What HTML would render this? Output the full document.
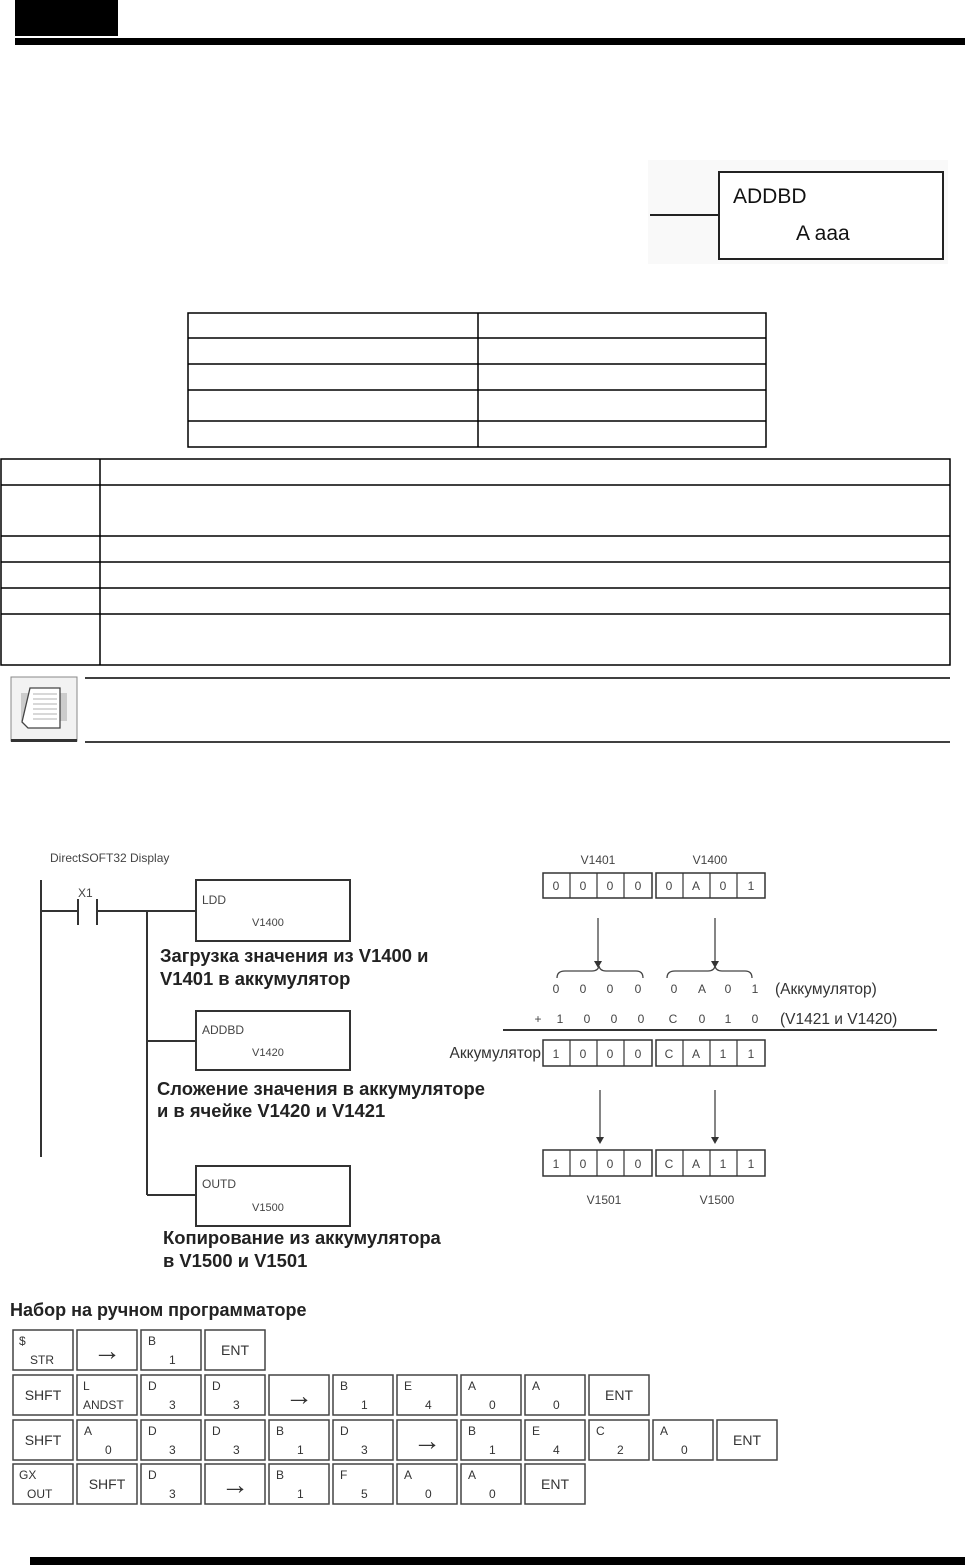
<!DOCTYPE html>
<html><head><meta charset="utf-8"><style>
html,body{margin:0;padding:0;background:#fff;}
svg{display:block;}
text{font-family:"Liberation Sans","DejaVu Sans",sans-serif;}
.k{fill:#fff;stroke:#444;stroke-width:1.5}
.s{font-size:12px;fill:#333}
.c{font-size:14px;fill:#333}
.a{font-size:28px;fill:#333}
.b{font-size:18.4px;font-weight:bold;fill:#222}
.g{font-size:12px;fill:#444}
.d{font-size:12px;fill:#444;text-anchor:middle}
</style></head><body>
<svg width="979" height="1565" viewBox="0 0 979 1565" xmlns="http://www.w3.org/2000/svg">
<rect x="15" y="0" width="103" height="36" fill="#000"/>
<rect x="15" y="38" width="950" height="7" fill="#000"/>
<rect x="648" y="160" width="300" height="104" fill="#f9f9f9"/>
<line x1="650" y1="215" x2="719" y2="215" stroke="#222" stroke-width="2"/>
<rect x="719" y="172" width="224" height="87" fill="#fff" stroke="#222" stroke-width="2"/>
<text x="733" y="203" style="font-size:21px;fill:#111">ADDBD</text>
<text x="796" y="240" style="font-size:21px;fill:#111">A aaa</text>
<g stroke="#000" stroke-width="1.5" fill="none">
<rect x="188" y="313" width="578" height="134"/>
<line x1="478" y1="313" x2="478" y2="447"/>
<line x1="188" y1="338" x2="766" y2="338"/>
<line x1="188" y1="364" x2="766" y2="364"/>
<line x1="188" y1="390" x2="766" y2="390"/>
<line x1="188" y1="421" x2="766" y2="421"/>
<rect x="1" y="459" width="949" height="206"/>
<line x1="100" y1="459" x2="100" y2="665"/>
<line x1="1" y1="485" x2="950" y2="485"/>
<line x1="1" y1="536" x2="950" y2="536"/>
<line x1="1" y1="562" x2="950" y2="562"/>
<line x1="1" y1="588" x2="950" y2="588"/>
<line x1="1" y1="614" x2="950" y2="614"/>
<line x1="85" y1="678" x2="950" y2="678"/>
<line x1="85" y1="742" x2="950" y2="742"/>
</g>
<rect x="11" y="677" width="66" height="64" fill="#f2f2f2" stroke="#888"/>
<rect x="11" y="739" width="66" height="3" fill="#333"/>
<rect x="21" y="693" width="46" height="28" fill="#ccc"/>
<path d="M30 688 L60 688 L60 728 L28 728 L22 722 Z" fill="#fff" stroke="#444" stroke-width="1.3"/>
<g stroke="#999" stroke-width="0.8"><line x1="33" y1="694" x2="57" y2="694"/><line x1="33" y1="699" x2="57" y2="699"/><line x1="33" y1="704" x2="57" y2="704"/><line x1="33" y1="709" x2="57" y2="709"/><line x1="33" y1="714" x2="57" y2="714"/><line x1="33" y1="719" x2="57" y2="719"/></g>
<text x="50" y="862" style="font-size:12px;fill:#444">DirectSOFT32 Display</text>
<g stroke="#333" stroke-width="2" fill="none">
<line x1="41" y1="880" x2="41" y2="1157"/>
<line x1="41" y1="911" x2="78" y2="911"/>
<line x1="78" y1="899" x2="78" y2="925"/>
<line x1="97" y1="899" x2="97" y2="925"/>
<line x1="97" y1="911" x2="196" y2="911"/>
<line x1="147" y1="911" x2="147" y2="1195"/>
<line x1="147" y1="1041" x2="196" y2="1041"/>
<line x1="147" y1="1195" x2="196" y2="1195"/>
<rect x="196" y="880" width="154" height="61"/>
<rect x="196" y="1011" width="154" height="59"/>
<rect x="196" y="1166" width="154" height="60"/>
</g>
<text x="78" y="897" style="font-size:12px;fill:#444">X1</text>
<text x="202" y="904" style="font-size:12px;fill:#444">LDD</text>
<text x="252" y="926" style="font-size:11px;fill:#444">V1400</text>
<text x="202" y="1034" style="font-size:12px;fill:#444">ADDBD</text>
<text x="252" y="1056" style="font-size:11px;fill:#444">V1420</text>
<text x="202" y="1188" style="font-size:12px;fill:#444">OUTD</text>
<text x="252" y="1211" style="font-size:11px;fill:#444">V1500</text>
<text x="160" y="962" class="b">Загрузка значения из V1400 и</text>
<text x="160" y="985" class="b">V1401 в аккумулятор</text>
<text x="157" y="1095" class="b">Сложение значения в аккумуляторе</text>
<text x="157" y="1117" class="b">и в ячейке V1420 и V1421</text>
<text x="163" y="1244" class="b">Копирование из аккумулятора</text>
<text x="163" y="1267" class="b">в V1500 и V1501</text>
<text x="598" y="864" class="d">V1401</text>
<text x="710" y="864" class="d">V1400</text>
<g stroke="#333" stroke-width="1.5" fill="#fff">
<rect x="543" y="873" width="109" height="25"/><rect x="656" y="873" width="109" height="25"/>
<rect x="543" y="1040" width="109" height="26"/><rect x="656" y="1040" width="109" height="26"/>
<rect x="543" y="1150" width="109" height="26"/><rect x="656" y="1150" width="109" height="26"/>
</g>
<g stroke="#333" stroke-width="1.2">
<line x1="570" y1="873" x2="570" y2="898"/><line x1="597" y1="873" x2="597" y2="898"/><line x1="624" y1="873" x2="624" y2="898"/>
<line x1="683" y1="873" x2="683" y2="898"/><line x1="710" y1="873" x2="710" y2="898"/><line x1="737" y1="873" x2="737" y2="898"/>
<line x1="570" y1="1040" x2="570" y2="1066"/><line x1="597" y1="1040" x2="597" y2="1066"/><line x1="624" y1="1040" x2="624" y2="1066"/>
<line x1="683" y1="1040" x2="683" y2="1066"/><line x1="710" y1="1040" x2="710" y2="1066"/><line x1="737" y1="1040" x2="737" y2="1066"/>
<line x1="570" y1="1150" x2="570" y2="1176"/><line x1="597" y1="1150" x2="597" y2="1176"/><line x1="624" y1="1150" x2="624" y2="1176"/>
<line x1="683" y1="1150" x2="683" y2="1176"/><line x1="710" y1="1150" x2="710" y2="1176"/><line x1="737" y1="1150" x2="737" y2="1176"/>
<line x1="598" y1="918" x2="598" y2="962"/><line x1="715" y1="918" x2="715" y2="962"/>
<line x1="600" y1="1090" x2="600" y2="1138"/><line x1="715" y1="1090" x2="715" y2="1138"/>
<line x1="503" y1="1030" x2="937" y2="1030" stroke-width="2"/>
</g>
<g fill="#333">
<path d="M594 961 L602 961 L598 968 Z"/><path d="M711 961 L719 961 L715 968 Z"/>
<path d="M596 1137 L604 1137 L600 1144 Z"/><path d="M711 1137 L719 1137 L715 1144 Z"/>
</g>
<g stroke="#444" stroke-width="1.3" fill="none">
<path d="M557 978 Q557 971 565 971 L592 971 Q598 971 599 966 Q600 971 606 971 L636 971 Q643 971 643 978"/>
<path d="M667 978 Q667 971 675 971 L708 971 Q714 971 715 966 Q716 971 722 971 L745 971 Q752 971 752 978"/>
</g>
<g class="d">
<text x="556" y="890" class="d">0</text><text x="583" y="890" class="d">0</text><text x="610" y="890" class="d">0</text><text x="638" y="890" class="d">0</text>
<text x="669" y="890" class="d">0</text><text x="696" y="890" class="d">A</text><text x="723" y="890" class="d">0</text><text x="751" y="890" class="d">1</text>
<text x="556" y="993" class="d">0</text><text x="583" y="993" class="d">0</text><text x="610" y="993" class="d">0</text><text x="638" y="993" class="d">0</text>
<text x="674" y="993" class="d">0</text><text x="702" y="993" class="d">A</text><text x="728" y="993" class="d">0</text><text x="755" y="993" class="d">1</text>
<text x="538" y="1023" class="d">+</text>
<text x="560" y="1023" class="d">1</text><text x="587" y="1023" class="d">0</text><text x="614" y="1023" class="d">0</text><text x="641" y="1023" class="d">0</text>
<text x="673" y="1023" class="d">C</text><text x="702" y="1023" class="d">0</text><text x="728" y="1023" class="d">1</text><text x="755" y="1023" class="d">0</text>
<text x="556" y="1058" class="d">1</text><text x="583" y="1058" class="d">0</text><text x="610" y="1058" class="d">0</text><text x="638" y="1058" class="d">0</text>
<text x="669" y="1058" class="d">C</text><text x="696" y="1058" class="d">A</text><text x="723" y="1058" class="d">1</text><text x="751" y="1058" class="d">1</text>
<text x="556" y="1168" class="d">1</text><text x="583" y="1168" class="d">0</text><text x="610" y="1168" class="d">0</text><text x="638" y="1168" class="d">0</text>
<text x="669" y="1168" class="d">C</text><text x="696" y="1168" class="d">A</text><text x="723" y="1168" class="d">1</text><text x="751" y="1168" class="d">1</text>
</g>
<text x="775" y="994" style="font-size:15.5px;fill:#333">(Аккумулятор)</text>
<text x="780" y="1024" style="font-size:15.5px;fill:#333">(V1421 и V1420)</text>
<text x="541" y="1058" style="font-size:15.5px;fill:#333;text-anchor:end">Аккумулятор</text>
<text x="604" y="1204" class="d">V1501</text>
<text x="717" y="1204" class="d">V1500</text>
<text x="10" y="1316" style="font-size:18px;font-weight:bold;fill:#222">Набор на ручном программаторе</text>
<g class="k">
<rect x="13" y="1330" width="60" height="40"/><rect x="77" y="1330" width="60" height="40"/><rect x="141" y="1330" width="60" height="40"/><rect x="205" y="1330" width="60" height="40"/>
<rect x="13" y="1375" width="60" height="40"/><rect x="77" y="1375" width="60" height="40"/><rect x="141" y="1375" width="60" height="40"/><rect x="205" y="1375" width="60" height="40"/><rect x="269" y="1375" width="60" height="40"/><rect x="333" y="1375" width="60" height="40"/><rect x="397" y="1375" width="60" height="40"/><rect x="461" y="1375" width="60" height="40"/><rect x="525" y="1375" width="60" height="40"/><rect x="589" y="1375" width="60" height="40"/>
<rect x="13" y="1420" width="60" height="40"/><rect x="77" y="1420" width="60" height="40"/><rect x="141" y="1420" width="60" height="40"/><rect x="205" y="1420" width="60" height="40"/><rect x="269" y="1420" width="60" height="40"/><rect x="333" y="1420" width="60" height="40"/><rect x="397" y="1420" width="60" height="40"/><rect x="461" y="1420" width="60" height="40"/><rect x="525" y="1420" width="60" height="40"/><rect x="589" y="1420" width="60" height="40"/><rect x="653" y="1420" width="60" height="40"/><rect x="717" y="1420" width="60" height="40"/>
<rect x="13" y="1464" width="60" height="40"/><rect x="77" y="1464" width="60" height="40"/><rect x="141" y="1464" width="60" height="40"/><rect x="205" y="1464" width="60" height="40"/><rect x="269" y="1464" width="60" height="40"/><rect x="333" y="1464" width="60" height="40"/><rect x="397" y="1464" width="60" height="40"/><rect x="461" y="1464" width="60" height="40"/><rect x="525" y="1464" width="60" height="40"/>
</g>
<text x="19" y="1345" class="s">$</text><text x="30" y="1364" class="s">STR</text>
<text x="107" y="1360" class="a" text-anchor="middle">→</text>
<text x="148" y="1345" class="s">B</text><text x="169" y="1364" class="s">1</text>
<text x="235" y="1355" class="c" text-anchor="middle">ENT</text>
<text x="43" y="1400" class="c" text-anchor="middle">SHFT</text>
<text x="83" y="1390" class="s">L</text><text x="83" y="1409" class="s">ANDST</text>
<text x="148" y="1390" class="s">D</text><text x="169" y="1409" class="s">3</text>
<text x="212" y="1390" class="s">D</text><text x="233" y="1409" class="s">3</text>
<text x="299" y="1405" class="a" text-anchor="middle">→</text>
<text x="340" y="1390" class="s">B</text><text x="361" y="1409" class="s">1</text>
<text x="404" y="1390" class="s">E</text><text x="425" y="1409" class="s">4</text>
<text x="468" y="1390" class="s">A</text><text x="489" y="1409" class="s">0</text>
<text x="532" y="1390" class="s">A</text><text x="553" y="1409" class="s">0</text>
<text x="619" y="1400" class="c" text-anchor="middle">ENT</text>
<text x="43" y="1445" class="c" text-anchor="middle">SHFT</text>
<text x="84" y="1435" class="s">A</text><text x="105" y="1454" class="s">0</text>
<text x="148" y="1435" class="s">D</text><text x="169" y="1454" class="s">3</text>
<text x="212" y="1435" class="s">D</text><text x="233" y="1454" class="s">3</text>
<text x="276" y="1435" class="s">B</text><text x="297" y="1454" class="s">1</text>
<text x="340" y="1435" class="s">D</text><text x="361" y="1454" class="s">3</text>
<text x="427" y="1450" class="a" text-anchor="middle">→</text>
<text x="468" y="1435" class="s">B</text><text x="489" y="1454" class="s">1</text>
<text x="532" y="1435" class="s">E</text><text x="553" y="1454" class="s">4</text>
<text x="596" y="1435" class="s">C</text><text x="617" y="1454" class="s">2</text>
<text x="660" y="1435" class="s">A</text><text x="681" y="1454" class="s">0</text>
<text x="747" y="1445" class="c" text-anchor="middle">ENT</text>
<text x="19" y="1479" class="s">GX</text><text x="27" y="1498" class="s">OUT</text>
<text x="107" y="1489" class="c" text-anchor="middle">SHFT</text>
<text x="148" y="1479" class="s">D</text><text x="169" y="1498" class="s">3</text>
<text x="235" y="1494" class="a" text-anchor="middle">→</text>
<text x="276" y="1479" class="s">B</text><text x="297" y="1498" class="s">1</text>
<text x="340" y="1479" class="s">F</text><text x="361" y="1498" class="s">5</text>
<text x="404" y="1479" class="s">A</text><text x="425" y="1498" class="s">0</text>
<text x="468" y="1479" class="s">A</text><text x="489" y="1498" class="s">0</text>
<text x="555" y="1489" class="c" text-anchor="middle">ENT</text>
<rect x="30" y="1557" width="935" height="8" fill="#000"/>
</svg>
</body></html>
